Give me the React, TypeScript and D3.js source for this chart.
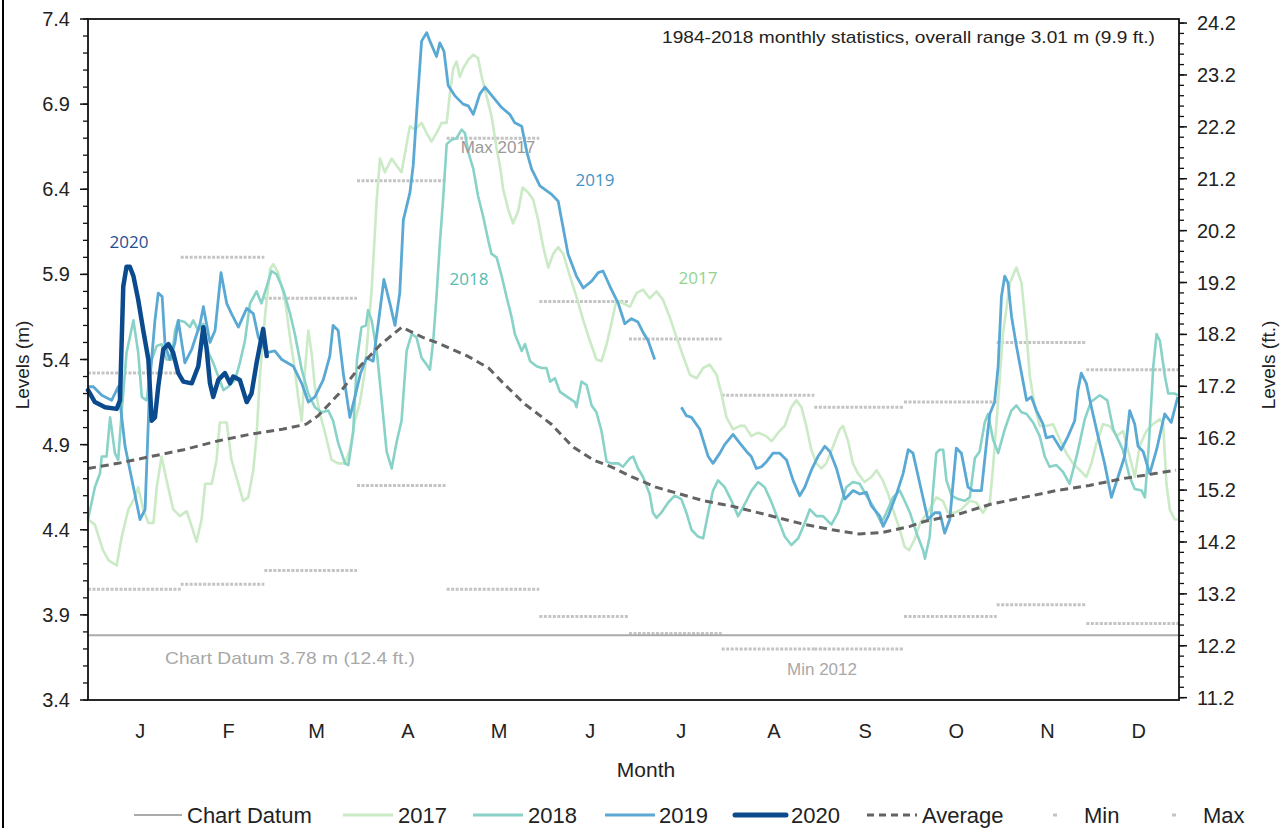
import React from 'react';
import * as d3 from 'd3';

// ---------- DATA ----------
const monthLabels = ['J', 'F', 'M', 'A', 'M', 'J', 'J', 'A', 'S', 'O', 'N', 'D'];
const monthDays = [31, 28, 31, 30, 31, 30, 31, 31, 30, 31, 30, 31];

// 1984-2018 monthly statistics (m)
const monthlyMax = [5.32, 6.0, 5.76, 6.45, 6.7, 5.74, 5.52, 5.19, 5.12, 5.15, 5.5, 5.34];
const monthlyMin = [4.05, 4.08, 4.16, 4.66, 4.05, 3.89, 3.79, 3.7, 3.7, 3.89, 3.96, 3.85];
const chartDatum = 3.78;

const leftTicks = [3.4, 3.9, 4.4, 4.9, 5.4, 5.9, 6.4, 6.9, 7.4];
const rightTicks = [11.2, 12.2, 13.2, 14.2, 15.2, 16.2, 17.2, 18.2, 19.2, 20.2, 21.2, 22.2, 23.2, 24.2];

// [day of year, level m]
const series2017: [number, number][] = [
  [0, 4.46], [2.3, 4.43], [5, 4.28], [6.9, 4.22], [9.6, 4.19], [11.3, 4.36], [13.5, 4.52], [15.7, 4.59], [16.8, 4.65],
  [18.5, 4.52], [20.2, 4.44], [21.9, 4.44], [23, 4.65], [24.6, 4.83], [26.3, 4.69], [28.5, 4.52], [30.8, 4.48], [33, 4.51],
  [34.7, 4.42], [36.3, 4.33], [38, 4.46], [39.2, 4.67], [41.4, 4.67], [43, 4.81], [44.1, 5.03], [46.4, 5.03], [48, 4.81],
  [50.3, 4.67], [51.9, 4.57], [53.6, 4.59], [55.3, 4.75], [56.4, 4.95], [57.5, 5.3], [59.2, 5.65], [60.9, 5.93], [62, 5.96],
  [63.6, 5.91], [65.9, 5.75], [67.6, 5.53], [69.2, 5.34], [70.3, 5.18], [71.5, 5.04], [72.6, 5.34], [73.7, 5.57], [74.8, 5.44],
  [75.9, 5.24], [77.6, 5.08], [79.3, 4.97], [81.5, 4.81], [83.7, 4.79], [86, 4.79], [87.6, 4.87], [89.3, 5.04], [91, 5.15],
  [92.6, 5.33], [94.9, 5.81], [96.6, 6.34], [97.7, 6.58], [99.3, 6.5], [101.6, 6.58], [103.2, 6.54], [104.9, 6.5], [106.6, 6.665],
  [107.7, 6.77], [109.4, 6.75], [111.6, 6.79], [113.3, 6.73], [114.9, 6.68], [116.6, 6.73], [118.3, 6.79], [120, 6.79], [121, 6.95],
  [122.2, 7.11], [123.3, 7.15], [124.4, 7.06], [125.5, 7.11], [127.2, 7.16], [128.9, 7.19], [130.5, 7.17], [131.6, 7.07], [133.3, 6.95],
  [135, 6.83], [136.7, 6.64], [137.8, 6.54], [138.9, 6.4], [140.6, 6.28], [142.2, 6.2], [143.9, 6.27], [145.4, 6.41], [147.3, 6.38],
  [148.9, 6.34], [150.6, 6.22], [152.3, 6.06], [154, 5.94], [155.6, 6.02], [157.3, 6.06], [159, 6.02], [161.2, 5.89], [163.4, 5.77],
  [165.7, 5.63], [167.9, 5.51], [170.1, 5.4], [171.8, 5.39], [173.5, 5.49], [175.1, 5.61], [176.8, 5.75], [179, 5.73], [181.3, 5.71],
  [183.5, 5.79], [185.7, 5.81], [187.9, 5.76], [190.2, 5.8], [192.4, 5.75], [194.6, 5.65], [196.9, 5.53], [199.1, 5.42], [201.4, 5.31],
  [203.6, 5.29], [205.8, 5.35], [208, 5.37], [210.3, 5.31], [211.9, 5.2], [213.6, 5.06], [215.8, 4.99], [218.1, 5.01], [219.7, 5.01],
  [221.9, 4.95], [224.2, 4.97], [226.9, 4.95], [228.7, 4.92], [230.9, 4.97], [233.1, 5.01], [235.3, 5.12], [237, 5.16], [238.7, 5.12],
  [240.3, 5.01], [242, 4.87], [243.7, 4.79], [245.4, 4.76], [247, 4.79], [249.3, 4.89], [251.5, 4.99], [252.6, 5.01], [254.3, 4.92],
  [255.9, 4.79], [257.6, 4.73], [259.8, 4.68], [262.1, 4.71], [263.8, 4.75], [265.9, 4.69], [267.7, 4.61], [269.3, 4.52], [271.6, 4.4],
  [273.2, 4.3], [274.7, 4.28], [276.5, 4.34], [278.4, 4.44], [281.6, 4.52], [283.8, 4.59], [286, 4.57], [287.7, 4.5], [289.9, 4.5],
  [292.2, 4.52], [295, 4.57], [297.2, 4.56], [299.4, 4.5], [301.7, 4.56], [302.8, 4.77], [304.5, 5.16], [306.1, 5.55], [308.4, 5.85],
  [310.6, 5.94], [312.3, 5.85], [314, 5.55], [315.1, 5.3], [316.8, 5.12], [318.4, 5.01], [320.6, 5.01], [322.9, 5.02], [325.1, 4.93],
  [327.3, 4.85], [329.5, 4.79], [331.8, 4.75], [334, 4.71], [335.7, 4.79], [337.4, 4.91], [339.6, 5.02], [341.8, 5.01], [344.1, 4.95],
  [346.3, 4.98], [348.5, 4.83], [350.2, 4.71], [351.8, 4.89], [354.1, 4.98], [356.3, 5.02], [358.6, 5.05], [359.7, 5.02], [360.8, 4.67],
  [361.9, 4.52], [363.6, 4.46], [364.6, 4.46],
];

const series2018: [number, number][] = [
  [0, 4.46], [2.3, 4.65], [4, 4.73], [4.6, 4.83], [6.2, 4.83], [7.4, 5.06], [9, 4.85], [10.1, 4.81], [11.3, 5.1], [12.9, 5.44],
  [15.2, 5.63], [16.8, 5.44], [18, 5.18], [19.6, 5.16], [21.3, 5.4], [23, 5.48], [24.6, 5.49], [26.3, 5.4], [28, 5.4], [29.1, 5.57],
  [30.2, 5.63], [32.4, 5.62], [34.1, 5.59], [35.2, 5.63], [36.9, 5.57], [38.6, 5.61], [40.3, 5.44], [41.9, 5.38], [43.6, 5.3],
  [45.3, 5.22], [46.9, 5.24], [49.2, 5.28], [50.8, 5.38], [52.5, 5.51], [54.2, 5.73], [56.4, 5.8], [58, 5.73], [59.8, 5.83],
  [61.4, 5.92], [63.1, 5.9], [65.3, 5.81], [67.6, 5.67], [69.2, 5.55], [71.5, 5.34], [73.7, 5.2], [75.9, 5.12], [78.2, 5.09],
  [80.4, 5.1], [82, 5.04], [83.7, 4.91], [86, 4.79], [87.1, 4.78], [88.7, 4.97], [90, 5.4], [91.5, 5.59], [93, 5.6], [93.7, 5.69],
  [94.9, 5.63], [96.6, 5.45], [98.2, 5.17], [99.9, 4.86], [101.6, 4.76], [103.3, 4.92], [104.9, 5.04], [106.6, 5.45], [108.3, 5.55],
  [109.9, 5.53], [111.6, 5.41], [113.3, 5.37], [114.4, 5.34], [115.5, 5.51], [116.6, 5.77], [117.7, 6.08], [118.8, 6.34], [120, 6.665],
  [121.6, 6.69], [123.3, 6.7], [125, 6.75], [126.1, 6.73], [127.2, 6.62], [128.9, 6.52], [130.5, 6.36], [132.2, 6.24], [133.9, 6.1],
  [135, 6.02], [136.7, 6.0], [138.4, 5.89], [140, 5.77], [141.7, 5.65], [142.8, 5.55], [145.1, 5.45], [146.2, 5.49], [147.9, 5.39],
  [150.1, 5.36], [151.8, 5.35], [153.4, 5.35], [154.6, 5.27], [156.2, 5.29], [157.9, 5.21], [161.2, 5.17], [162.9, 5.15], [163.4, 5.12],
  [165.1, 5.27], [166.8, 5.25], [168.5, 5.13], [170.1, 5.09], [171.8, 4.98], [173.5, 4.8], [175.1, 4.79], [177.4, 4.79], [179, 4.77],
  [181.3, 4.82], [182.4, 4.83], [184, 4.76], [185.7, 4.71], [187.9, 4.61], [189, 4.5], [190.2, 4.47], [191.8, 4.5], [194.1, 4.56],
  [196.3, 4.6], [198.5, 4.58], [200.2, 4.5], [201.9, 4.4], [204.1, 4.36], [205.8, 4.35], [207.5, 4.5], [209.1, 4.63], [210.8, 4.69],
  [213, 4.65], [215.3, 4.57], [217.5, 4.48], [219.7, 4.55], [222, 4.63], [224.2, 4.68], [226.4, 4.65], [228.7, 4.56], [230.9, 4.46],
  [233.1, 4.36], [235.3, 4.31], [237.6, 4.35], [239.8, 4.44], [241.5, 4.52], [243.7, 4.48], [245.9, 4.48], [248.7, 4.43], [250.9, 4.5],
  [253.7, 4.65], [255.9, 4.68], [258.2, 4.67], [260.4, 4.6], [262.6, 4.54], [265.4, 4.44], [267.1, 4.5], [269.3, 4.59], [271.6, 4.63],
  [273.2, 4.57], [275, 4.5], [277.2, 4.38], [279.4, 4.28], [280, 4.23], [281.6, 4.36], [282.7, 4.63], [283.8, 4.85], [284.9, 4.87],
  [286.1, 4.87], [287.2, 4.69], [288.9, 4.6], [291.1, 4.58], [293.3, 4.57], [295, 4.59], [296.7, 4.82], [298.3, 4.86], [300, 5.03],
  [301.1, 5.08], [302.8, 4.93], [304.5, 4.85], [306.7, 4.99], [308.9, 5.1], [310.6, 5.13], [312.3, 5.09], [314, 5.08], [316.2, 5.03],
  [318.4, 4.95], [320.1, 4.83], [321.7, 4.77], [324, 4.78], [326.2, 4.74], [328.4, 4.67], [331, 4.85], [333.5, 5.05], [335.5, 5.15],
  [338.5, 5.19], [341, 5.16], [343, 4.99], [346.2, 4.87], [348.5, 4.71], [350.2, 4.64], [352.5, 4.63], [353.6, 4.59], [354.8, 4.87],
  [356.4, 5.36], [357.5, 5.55], [358.6, 5.51], [360.3, 5.3], [361.4, 5.2], [363.6, 5.2], [364.6, 5.19],
];

// NaN marks the gap in the 2019 record
const series2019: [number, number][] = [
  [0, 5.24], [1.8, 5.24], [4.6, 5.19], [7.9, 5.16], [10.1, 5.24], [12.4, 4.89], [15.2, 4.65], [17.4, 4.46], [19.1, 4.52], [20.7, 5.28],
  [22.4, 5.63], [23.5, 5.79], [24.8, 5.77], [25.8, 5.48], [27.4, 5.4], [29.1, 5.5], [30.2, 5.63], [32.4, 5.38], [34.7, 5.46],
  [37.5, 5.61], [38.6, 5.71], [40.8, 5.5], [42.5, 5.57], [44.5, 5.91], [46.4, 5.73], [48, 5.67], [50.3, 5.59], [53.1, 5.7],
  [55.3, 5.67], [57, 5.53], [59.8, 5.44], [62.5, 5.45], [64.8, 5.4], [68.7, 5.36], [71.5, 5.26], [73.7, 5.15], [75.9, 5.18],
  [78.7, 5.28], [80.9, 5.42], [82, 5.6], [83.7, 5.57], [85.4, 5.32], [87.6, 5.06], [89.3, 5.18], [91.2, 5.32], [93.2, 5.41],
  [95.4, 5.39], [97.1, 5.61], [99, 5.87], [101, 5.73], [102.7, 5.6], [104.3, 5.79], [105.5, 6.22], [107.7, 6.38], [108.8, 6.54],
  [110.1, 6.89], [111.6, 7.27], [113.3, 7.32], [114.4, 7.27], [116.6, 7.18], [117.7, 7.26], [119.1, 7.21], [120.5, 7.01], [122.7, 6.95],
  [125.5, 6.9], [127.2, 6.89], [128.9, 6.84], [131.1, 6.96], [132.8, 7.0], [135.6, 6.94], [138.4, 6.88], [141.1, 6.84], [142.8, 6.79],
  [145.1, 6.77], [146.8, 6.62], [148.4, 6.52], [151.2, 6.42], [155.1, 6.37], [157.3, 6.33], [160.6, 6.02], [163.4, 5.89], [165.7, 5.82],
  [168.5, 5.86], [170.7, 5.91], [172.3, 5.92], [174.6, 5.83], [177.4, 5.73], [179.6, 5.61], [181.8, 5.64], [184, 5.62], [185.7, 5.56],
  [187.4, 5.51], [189.6, 5.4], [194, NaN], [198.5, 5.12], [200.2, 5.07], [201.9, 5.06], [204.7, 4.99], [207.5, 4.83], [209.1, 4.79],
  [211.4, 4.85], [213, 4.9], [215.8, 4.96], [218, 4.91], [220.3, 4.86], [221.9, 4.83], [223.6, 4.76], [225.3, 4.77], [227, 4.8],
  [229.2, 4.85], [231.4, 4.85], [233.7, 4.81], [235.9, 4.69], [238.1, 4.6], [239.8, 4.65], [242, 4.75], [244.2, 4.83], [246.5, 4.89],
  [248.2, 4.86], [250.4, 4.76], [253.2, 4.58], [256, 4.63], [258.2, 4.61], [260.4, 4.62], [262.1, 4.54], [264.9, 4.48], [266, 4.42],
  [267.7, 4.48], [270.5, 4.61], [272.7, 4.73], [274.4, 4.87], [276, 4.85], [278.3, 4.67], [281, 4.46], [283.3, 4.5], [285, 4.5],
  [286.6, 4.38], [288.3, 4.46], [290.5, 4.88], [292.2, 4.85], [294.4, 4.65], [296.1, 4.63], [298.9, 4.63], [300.6, 4.91], [301.7, 5.08],
  [303.3, 5.15], [304.5, 5.36], [305.6, 5.77], [306.7, 5.89], [307.8, 5.85], [309, 5.65], [310.6, 5.48], [312.3, 5.32], [314, 5.16],
  [315.6, 5.18], [317.3, 5.1], [319.5, 5.02], [320.6, 4.94], [322.8, 4.95], [325.6, 4.87], [327.9, 4.95], [330.1, 5.04], [331.2, 5.22],
  [332.3, 5.32], [334, 5.26], [335.7, 5.12], [337.9, 4.95], [340.1, 4.79], [342.4, 4.59], [344.6, 4.71], [346.8, 4.83], [348.5, 5.1],
  [350.2, 5.02], [351.3, 4.89], [353, 4.86], [355.2, 4.73], [357.5, 4.87], [360.2, 5.08], [362.4, 5.03], [364.6, 5.18],
];

const series2020: [number, number][] = [
  [0, 5.22], [2.3, 5.15], [5.7, 5.12], [9.6, 5.11], [10.7, 5.16], [11.8, 5.83], [12.9, 5.945], [14, 5.945], [15.2, 5.89],
  [16.8, 5.75], [18.5, 5.57], [20.2, 5.4], [21.3, 5.04], [22.4, 5.06], [23.5, 5.24], [25.2, 5.46], [26.9, 5.49], [28.5, 5.44],
  [30.2, 5.32], [31.9, 5.27], [34.7, 5.26], [36.9, 5.36], [38.6, 5.59], [39.7, 5.46], [40.8, 5.26], [41.9, 5.18], [43.6, 5.28],
  [45.8, 5.32], [47.5, 5.26], [48.6, 5.3], [50.8, 5.28], [53.1, 5.15], [54.7, 5.2], [56.4, 5.38], [58.6, 5.58], [59.8, 5.42],
];

const average: [number, number][] = [
  [0, 4.76], [10, 4.79], [21, 4.83], [32, 4.87], [43, 4.92], [54, 4.96], [65, 4.99], [73, 5.02], [77, 5.07], [84, 5.2], [91, 5.36],
  [98, 5.49], [105, 5.59], [112, 5.53], [118, 5.49], [127, 5.42], [134, 5.35], [139, 5.26], [146, 5.14], [155, 5.02], [162, 4.89],
  [169, 4.81], [175, 4.77], [182, 4.71], [190, 4.65], [198, 4.61], [206, 4.57], [215, 4.54], [222, 4.51], [231, 4.47], [240, 4.43],
  [249, 4.4], [258, 4.375], [266, 4.385], [275, 4.42], [280, 4.45], [291, 4.49], [302, 4.55], [313, 4.59], [324, 4.63], [335, 4.66],
  [346, 4.7], [357, 4.73], [364, 4.75],
];

// ---------- LAYOUT / STYLE ----------
const W = 1286;
const H = 828;
const L = 88;
const R = 1179;
const T = 19;
const B = 700;
const M2FT = 3.28084;

const C2017 = '#cbeac6';
const C2018 = '#88d2c8';
const C2019 = '#5aa8d4';
const C2020 = '#0c4a8e';
const CAVG = '#636363';
const CSTAT = '#c4c4c4';
const CDATUM = '#ababab';
const FONT = '"Liberation Sans", Arial, sans-serif';
const FONT2 = '"Open Sans", "Noto Sans", sans-serif';

const legendItems = [
  { label: 'Chart Datum', kind: 'datum', x0: 134, x1: 182, tx: 187 },
  { label: '2017', kind: '2017', x0: 343, x1: 393, tx: 398 },
  { label: '2018', kind: '2018', x0: 473, x1: 523, tx: 528 },
  { label: '2019', kind: '2019', x0: 605, x1: 655, tx: 659 },
  { label: '2020', kind: '2020', x0: 735, x1: 786, tx: 791 },
  { label: 'Average', kind: 'avg', x0: 867, x1: 917, tx: 922 },
  { label: 'Min', kind: 'min', x0: 1053, x1: 1057, tx: 1084 },
  { label: 'Max', kind: 'max', x0: 1172, x1: 1176, tx: 1203 },
];

export default function App() {
  const x = d3.scaleLinear().domain([0, 365]).range([L, R]);
  const y = d3.scaleLinear().domain([3.4, 7.4]).range([B, T]);
  const yFt = d3.scaleLinear().domain([3.4 * M2FT, 7.4 * M2FT]).range([B, T]);

  const line = d3
    .line<[number, number]>()
    .defined((d) => !Number.isNaN(d[1]))
    .x((d) => x(d[0]))
    .y((d) => y(d[1]));

  const monthStarts = d3.cumsum([0, ...monthDays]);
  const minorLeft = d3.range(34, 75).map((v) => v / 10);
  const minorRight = d3.range(0, 66).map((i) => 11.2 + i * 0.2).filter((v) => v <= 24.25);

  const legendLine = (kind: string, x0: number, x1: number, yy: number) => {
    if (kind === 'datum') return <line x1={x0} x2={x1} y1={yy} y2={yy} stroke={CDATUM} strokeWidth={2} />;
    if (kind === '2017') return <line x1={x0} x2={x1} y1={yy} y2={yy} stroke={C2017} strokeWidth={3} />;
    if (kind === '2018') return <line x1={x0} x2={x1} y1={yy} y2={yy} stroke={C2018} strokeWidth={3} />;
    if (kind === '2019') return <line x1={x0} x2={x1} y1={yy} y2={yy} stroke={C2019} strokeWidth={3} />;
    if (kind === '2020') return <line x1={x0} x2={x1} y1={yy} y2={yy} stroke={C2020} strokeWidth={5} strokeLinecap="round" />;
    if (kind === 'avg') return <line x1={x0} x2={x1} y1={yy} y2={yy} stroke={CAVG} strokeWidth={3} strokeDasharray="7,5" />;
    return <line x1={x0} x2={x1} y1={yy} y2={yy} stroke={CSTAT} strokeWidth={3} />;
  };

  return (
    <svg
      width={W}
      height={H}
      viewBox={`0 0 ${W} ${H}`}
      style={{ position: 'absolute', left: 0, top: 0, background: '#fff', display: 'block' }}
    >
      <rect x={0} y={0} width={W} height={H} fill="#fff" />
      <line x1={3} x2={3} y1={0} y2={H} stroke="#000" strokeWidth={2} />

      {/* monthly statistics */}
      {monthlyMax.map((v, i) => (
        <line key={'mx' + i} x1={x(monthStarts[i])} x2={x(monthStarts[i + 1])} y1={y(v)} y2={y(v)}
          stroke={CSTAT} strokeWidth={3} strokeDasharray="3,1.5" />
      ))}
      {monthlyMin.map((v, i) => (
        <line key={'mn' + i} x1={x(monthStarts[i])} x2={x(monthStarts[i + 1])} y1={y(v)} y2={y(v)}
          stroke={CSTAT} strokeWidth={3} strokeDasharray="3,1.5" />
      ))}

      {/* chart datum */}
      <line x1={L} x2={R} y1={y(chartDatum)} y2={y(chartDatum)} stroke={CDATUM} strokeWidth={2} />

      {/* series */}
      <path d={line(series2017) || ''} fill="none" stroke={C2017} strokeWidth={2.6} strokeLinejoin="round" />
      <path d={line(series2018) || ''} fill="none" stroke={C2018} strokeWidth={2.6} strokeLinejoin="round" />
      <path d={line(series2019) || ''} fill="none" stroke={C2019} strokeWidth={2.8} strokeLinejoin="round" />
      <path d={line(average) || ''} fill="none" stroke={CAVG} strokeWidth={3} strokeDasharray="8,5" />
      <path d={line(series2020) || ''} fill="none" stroke={C2020} strokeWidth={4.5} strokeLinejoin="round" strokeLinecap="round" />

      {/* annotations */}
      <text x={129} y={248} fill="#1f508f" fontFamily={FONT2} fontSize={17} textAnchor="middle">2020</text>
      <text x={595} y={186} fill="#3f93c4" fontFamily={FONT2} fontSize={17} textAnchor="middle">2019</text>
      <text x={469} y={285} fill="#55bcb0" fontFamily={FONT2} fontSize={17} textAnchor="middle">2018</text>
      <text x={698} y={284} fill="#92d48e" fontFamily={FONT2} fontSize={17} textAnchor="middle">2017</text>
      <text x={498} y={153} fill="#9a9a9a" fontFamily={FONT} fontSize={17} textAnchor="middle">Max 2017</text>
      <text x={165} y={664} fill="#a8a8a8" fontFamily={FONT} fontSize={17} textLength={250} lengthAdjust="spacingAndGlyphs">Chart Datum 3.78 m (12.4 ft.)</text>
      <text x={822} y={675} fill="#a8a8a8" fontFamily={FONT} fontSize={17} textAnchor="middle">Min 2012</text>
      <text x={1155} y={43} fill="#222" fontFamily={FONT} fontSize={17} textAnchor="end" textLength={493} lengthAdjust="spacingAndGlyphs">1984-2018 monthly statistics, overall range 3.01 m (9.9 ft.)</text>

      {/* frame */}
      <rect x={L} y={T} width={R - L} height={B - T} fill="none" stroke="#111" strokeWidth={1.8} />

      {/* left axis ticks */}
      {minorLeft.map((v, i) => (
        <line key={'lm' + i} x1={L - 5} x2={L} y1={y(v)} y2={y(v)} stroke="#111" strokeWidth={1.3} />
      ))}
      {leftTicks.map((v) => (
        <g key={'lt' + v}>
          <line x1={L - 8} x2={L} y1={y(v)} y2={y(v)} stroke="#111" strokeWidth={1.5} />
          <text x={70} y={y(v)} dy="0.35em" textAnchor="end" fontFamily={FONT} fontSize={20} fill="#222">{v.toFixed(1)}</text>
        </g>
      ))}

      {/* right axis ticks */}
      {minorRight.map((v, i) => (
        <line key={'rm' + i} x1={R} x2={R + 5} y1={yFt(v)} y2={yFt(v)} stroke="#111" strokeWidth={1.3} />
      ))}
      {rightTicks.map((v) => (
        <g key={'rt' + v}>
          <line x1={R} x2={R + 8} y1={yFt(v)} y2={yFt(v)} stroke="#111" strokeWidth={1.5} />
          <text x={1197} y={yFt(v)} dy="0.35em" textAnchor="start" fontFamily={FONT} fontSize={20} fill="#222">{v.toFixed(1)}</text>
        </g>
      ))}

      {/* x axis month labels */}
      {monthLabels.map((m, i) => (
        <text key={'m' + i} x={x((monthStarts[i] + monthStarts[i + 1]) / 2) + 6} y={738} textAnchor="middle"
          fontFamily={FONT} fontSize={20} fill="#222">{m}</text>
      ))}

      {/* axis titles */}
      <text x={646} y={777} textAnchor="middle" fontFamily={FONT} fontSize={21} fill="#222">Month</text>
      <text transform={`translate(29,365) rotate(-90)`} textAnchor="middle" fontFamily={FONT} fontSize={19} fill="#222">Levels (m)</text>
      <text transform={`translate(1275,365) rotate(-90)`} textAnchor="middle" fontFamily={FONT} fontSize={19} fill="#222">Levels (ft.)</text>

      {/* legend */}
      {legendItems.map((it) => (
        <g key={it.label}>
          {legendLine(it.kind, it.x0, it.x1, 815)}
          <text x={it.tx} y={823} fontFamily={FONT} fontSize={22} fill="#222">{it.label}</text>
        </g>
      ))}
    </svg>
  );
}
